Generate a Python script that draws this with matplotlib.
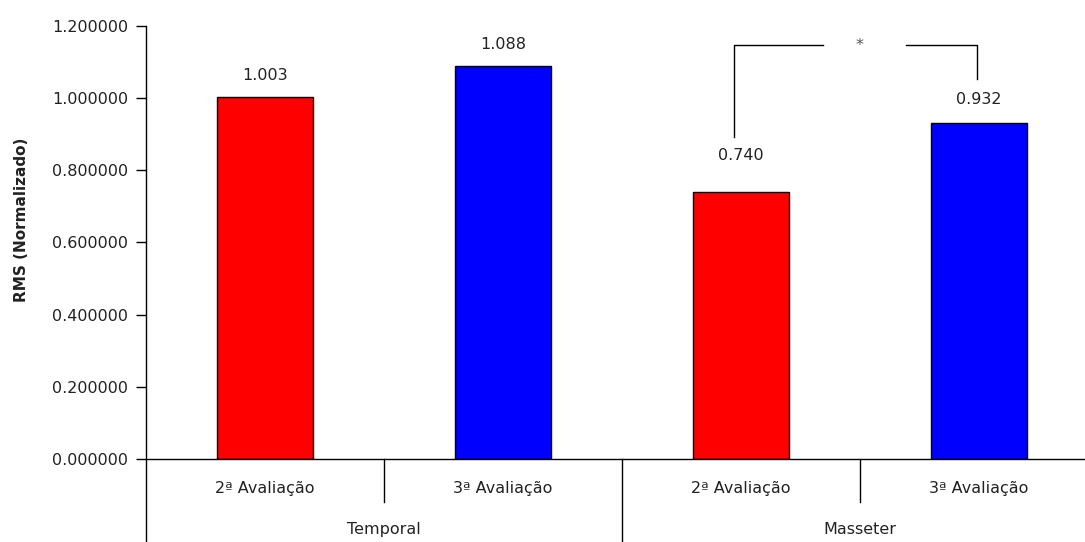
import matplotlib.pyplot as plt
import matplotlib.transforms as mtransforms

# dados
musculos = ['Temporal', 'Masseter']
avaliacoes = ['2ª Avaliação', '3ª Avaliação']
valores = [1.003, 1.088, 0.740, 0.932]
cores = ['#ff0000', '#0000ff', '#ff0000', '#0000ff']
rotulos = ['1.003', '1.088', '0.740', '0.932']

plt.rcParams['font.family'] = ['DejaVu Sans']
fs = 11.5
tc = '#222222'

fig = plt.figure(figsize=(10.85, 5.42), dpi=100)
ax = fig.add_axes([146 / 1085, 1 - 459 / 542, 952 / 1085, 433 / 542])

x = list(range(len(valores)))
ax.bar(x, valores, width=0.4, color=cores, edgecolor='black', linewidth=1)
ax.set_xlim(-0.5, 3.5)
ax.set_ylim(0, 1.2)
ax.set_yticks([0, 0.2, 0.4, 0.6, 0.8, 1.0, 1.2])
ax.set_yticklabels(['%.6f' % v for v in [0, 0.2, 0.4, 0.6, 0.8, 1.0, 1.2]],
                   fontsize=fs, color=tc)
ax.tick_params(axis='y', length=7, width=1, direction='out', pad=6)
ax.set_xticks([])
for s in ['top', 'right']:
    ax.spines[s].set_visible(False)
ax.spines['left'].set_visible(False)
ax.spines['bottom'].set_linewidth(1)

# eixo y estendido ate a borda inferior
trans = mtransforms.blended_transform_factory(ax.transData, ax.transAxes)
ax.plot([-0.5, -0.5], [1.0, -0.2], transform=trans, color='black', lw=1, clip_on=False)

# rotulos de valores
offs = [0.06, 0.06, 0.10, 0.065]
for xi, v, r, o in zip(x, valores, rotulos, offs):
    ax.text(xi, v + o, r, ha='center', va='center', fontsize=fs, color=tc)

# eixo de categorias em dois niveis
for i in range(len(valores)):
    ax.text(i, -0.068, avaliacoes[i % 2], transform=trans, ha='center', va='center',
            fontsize=fs, color=tc)
for g, nome in enumerate(musculos):
    ax.text(2 * g + 0.5, -0.163, nome, transform=trans, ha='center', va='center',
            fontsize=fs, color=tc)
    ax.plot([2 * g + 0.5] * 2, [0, -0.1], transform=trans, color='black', lw=1, clip_on=False)
ax.plot([1.5, 1.5], [0, -0.2], transform=trans, color='black', lw=1, clip_on=False)

# marcador de significancia
topo = 1.147
ax.plot([1.97, 1.97, 2.344], [valores[2] + 0.152, topo, topo], color='black', lw=1, clip_on=False)
ax.plot([2.693, 2.99, 2.99], [topo, topo, valores[3] + 0.121], color='black', lw=1, clip_on=False)
ax.text(2.5, topo, '*', ha='center', va='center', fontsize=fs, color='#555555')

fig.text(22 / 1085, 1 - 220 / 542, 'RMS (Normalizado)', rotation=90, ha='center',
         va='center', fontsize=11, fontweight='bold', color=tc)

plt.savefig('out.png', dpi=100)
